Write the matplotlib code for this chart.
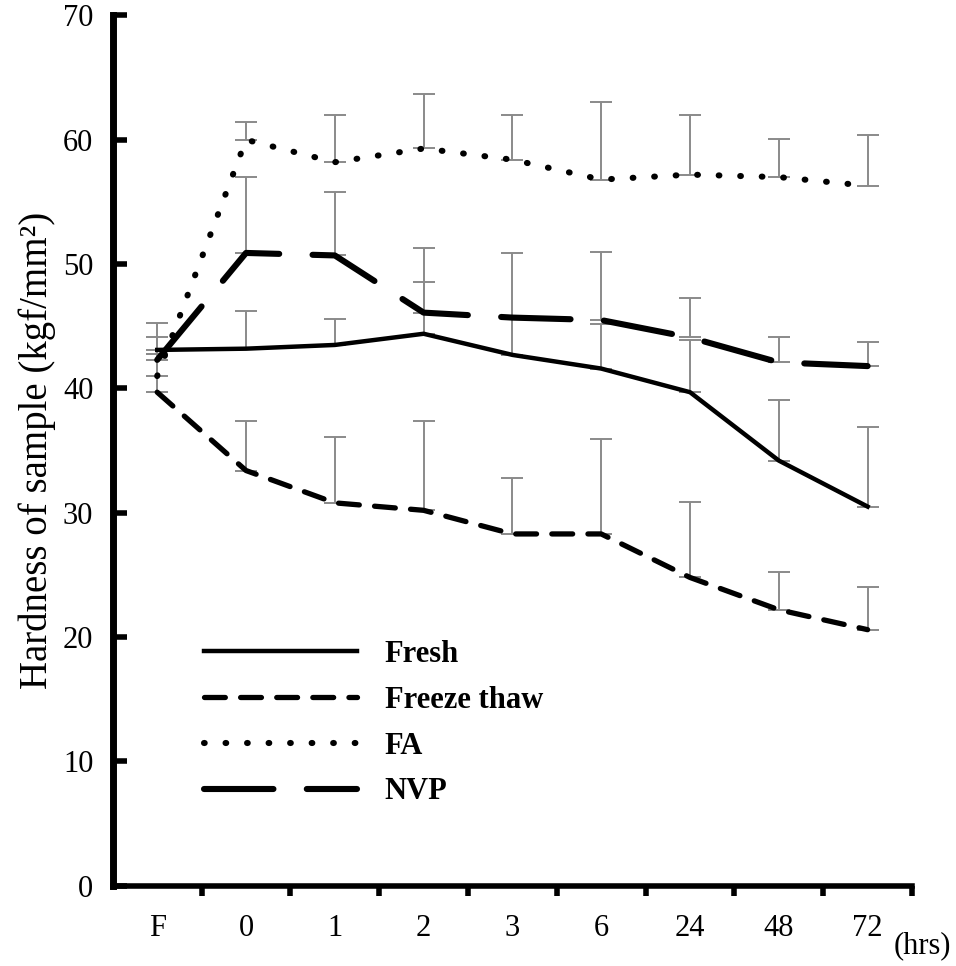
import matplotlib
matplotlib.use('agg')
import matplotlib.pyplot as plt
import numpy as np

plt.rcParams['font.family'] = ['Liberation Serif', 'DejaVu Serif']
plt.rcParams['lines.scale_dashes'] = False

hours = ['F', '0', '1', '2', '3', '6', '24', '48', '72']

fresh = [43.1, 43.2, 43.5, 44.4, 42.7, 41.6, 39.7, 34.2, 30.5]
fresh_err = [2.2, 3.0, 2.1, 4.2, 3.0, 3.6, 4.2, 4.9, 6.4]

freeze = [39.7, 33.4, 30.8, 30.2, 28.3, 28.3, 24.8, 22.2, 20.6]
freeze_err = [3.1, 4.0, 5.3, 7.2, 4.5, 7.6, 6.1, 3.0, 3.4]

fa = [41.0, 60.0, 58.2, 59.3, 58.4, 56.8, 57.2, 57.0, 56.3]
fa_err = [1.8, 1.4, 3.8, 4.4, 3.6, 6.2, 4.8, 3.1, 4.1]

nvp = [42.3, 50.9, 50.7, 46.1, 45.7, 45.5, 44.1, 42.1, 41.8]
nvp_err = [1.8, 6.1, 5.1, 5.2, 5.2, 5.5, 3.2, 2.0, 1.9]

x = np.arange(len(hours))

fig = plt.figure(figsize=(9.56, 9.66), dpi=100)
ax = fig.add_axes([0.118, 0.083, 0.836, 0.901])

series = [
    ('Fresh', fresh, fresh_err, dict(linestyle='-', linewidth=3.2)),
    ('Freeze thaw', freeze, freeze_err, dict(linestyle=(0, (15, 11)), linewidth=3.8, dash_capstyle='round')),
    ('FA', fa, fa_err, dict(linestyle=(0, (0.5, 15)), linewidth=4.4, dash_capstyle='round')),
    ('NVP', nvp, nvp_err, dict(linestyle=(0, (50, 24)), linewidth=4.4, dash_capstyle='round')),
]

for name, vals, err, style in series:
    ax.errorbar(x, vals, yerr=[np.zeros(len(err)), err], fmt='none', ecolor='#8a8a8a',
                elinewidth=1.4, capsize=8, capthick=1.4, zorder=1)
    ax.plot(x, vals, color='black', label=name, zorder=3, **style)

ax.set_xlim(-0.5, 8.5)
ax.set_ylim(0, 70)
ax.set_yticks(np.arange(0, 71, 10))
ax.set_xticks(x)
ax.set_xticklabels(hours)
ax.set_xticks(np.arange(0.5, 8.6, 1), minor=True)

ax.spines['top'].set_visible(False)
ax.spines['right'].set_visible(False)
ax.spines['left'].set_linewidth(5)
ax.spines['bottom'].set_linewidth(4)

ax.tick_params(axis='y', direction='in', length=10, width=4, labelsize=22, pad=14)
ax.tick_params(axis='x', which='major', length=0, labelsize=22, pad=20)
ax.tick_params(axis='x', which='minor', direction='out', length=7, width=4)

ax.set_ylabel('Hardness of sample (kgf/mm\u00b2)', fontsize=28, labelpad=5)
fig.text(0.995, 0.006, '(hrs)', fontsize=22, ha='right', va='bottom')

leg = ax.legend(loc='upper left', bbox_to_anchor=(0.08, 0.314), frameon=False,
                handlelength=5.0, handletextpad=0.9, labelspacing=0.55,
                prop={'family': 'Liberation Serif', 'weight': 'bold', 'size': 22})

fig.savefig('out.png', dpi=100)
